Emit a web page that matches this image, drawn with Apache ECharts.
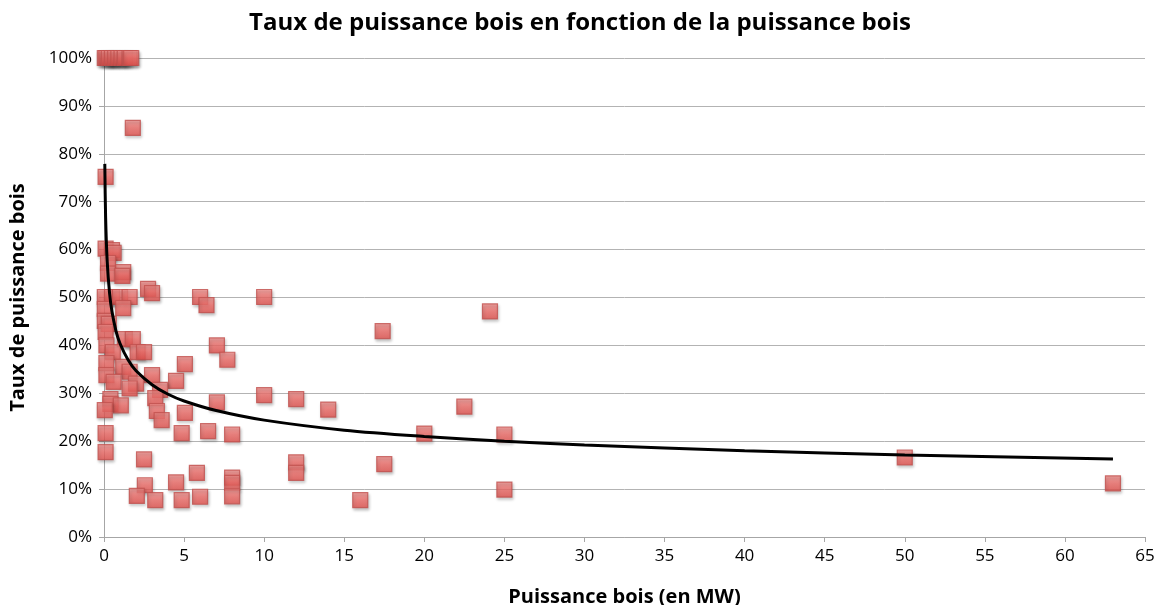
<!DOCTYPE html>
<html><head><meta charset="utf-8">
<script src="https://cdn.jsdelivr.net/npm/echarts@6/dist/echarts.min.js"></script>
<style>html,body{margin:0;padding:0;background:#fff}#c{width:1160px;height:605px}</style>
</head><body><div id="c"></div>
<script>
const titleText = 'Taux de puissance bois en fonction de la puissance bois';
const xAxisName = 'Puissance bois (en MW)';
const yAxisName = 'Taux de puissance bois';
// scatter points: [puissance MW, taux %]
const points = [
[0.05,100],[0.15,100],[0.3,100],[0.5,100],[0.7,100],[0.9,100],[1.1,100],[1.3,100],[1.6,100],[1.7,100],
[1.8,85.4],[0.1,75.2],
[0.1,60.2],[0.5,59.9],[0.6,59.3],[0.25,57.2],[0.25,55],[1.2,55.3],[1.15,54.5],
[2.75,51.8],[3.0,50.9],
[0.05,50.1],[0.5,50.1],[1.0,50.1],[1.6,50.1],[6.0,50.1],[10,50.1],
[6.4,48.4],[1.2,47.8],[0.05,47.6],[24.1,47.1],
[0.05,45.1],[0.3,44.5],[17.4,43],[0.1,42.8],
[1.3,41.3],[1.8,41.3],[7.05,40],[0.15,40],
[0.55,38.6],[2.1,38.6],[2.5,38.6],[7.7,37],
[0.15,36.3],[5.05,36.1],[1.2,35.5],[1.6,34.5],
[0.15,33.8],[3.0,33.8],[0.6,32.4],[4.5,32.6],[2.0,32],
[1.6,31],[3.5,30.7],[10,29.6],[12,28.8],[3.2,29.0],
[0.4,28.8],[7.05,28.1],[0.4,27.8],[1.05,27.5],[22.5,27.2],
[0.05,26.5],[3.3,26.3],[5.05,25.9],[14,26.6],[3.6,24.4],
[6.5,22.1],[4.85,21.7],[0.1,21.7],[8.0,21.4],[20,21.6],[25,21.4],
[0.1,17.7],[2.5,16.2],[50,16.6],[12,15.6],[17.5,15.2],
[5.8,13.4],[12,13.4],[8.0,12.4],[8.0,11.3],
[2.55,10.8],[4.5,11.4],[63,11.2],[25,9.9],
[2.05,8.6],[6.0,8.4],[8.0,8.5],[3.2,7.7],[4.85,7.7],[16,7.7]
];
// power trend line values
const trendX = [0.05,0.1,0.2,0.35,0.5,0.75,1,1.5,2,3,4,5,7,10,15,20,25,30,40,50,63];
const trendY = [77.9,66.9,57.5,50.8,47.0,43.0,40.4,37.0,34.7,31.8,29.8,28.4,26.4,24.4,22.3,21.0,20.0,19.2,18.0,17.1,16.3];
const xTicks = {min:0,max:65,interval:5};
const yTicks = {min:0,max:100,interval:10};

const FONT = 'Open Sans';
const chart = echarts.init(document.getElementById('c'));
chart.setOption({
  animation:false,
  backgroundColor:'#fff',
  title:{text:titleText,left:'center',top:6,textStyle:{fontFamily:FONT,fontSize:24,fontWeight:'bold',color:'#000'}},
  grid:{left:104,right:15,top:58,bottom:68,outerBoundsMode:'none',containLabel:false},
  xAxis:{type:'value',min:xTicks.min,max:xTicks.max,interval:xTicks.interval,
    name:xAxisName,nameLocation:'middle',nameGap:50,
    nameTextStyle:{fontFamily:FONT,fontSize:20,fontWeight:'bold',color:'#000'},
    axisLine:{show:true,onZero:false,lineStyle:{color:'#a6a6a6',width:1}},
    axisTick:{show:true,length:5,lineStyle:{color:'#a6a6a6'}},
    axisLabel:{fontFamily:FONT,fontSize:17,color:'#000',margin:11},
    splitLine:{show:false}},
  yAxis:{type:'value',min:yTicks.min,max:yTicks.max,interval:yTicks.interval,
    name:yAxisName,nameLocation:'middle',nameGap:76,nameRotate:90,
    nameTextStyle:{fontFamily:FONT,fontSize:20,fontWeight:'bold',color:'#000'},
    axisLine:{show:true,lineStyle:{color:'#a6a6a6',width:1}},
    axisTick:{show:true,length:5,lineStyle:{color:'#a6a6a6'}},
    axisLabel:{fontFamily:FONT,fontSize:17,color:'#000',margin:12,formatter:v=>v+'%'},
    splitLine:{show:true,lineStyle:{color:'#b3b3b3',width:1}}},
  series:[
    {type:'scatter',symbol:'rect',symbolSize:15,data:points,z:2,
      itemStyle:{color:new echarts.graphic.LinearGradient(0,0,0,1,[{offset:0,color:'#f69390'},{offset:0.5,color:'#ef6d69'},{offset:1,color:'#e2514d'}]),
        borderColor:'#c0504d',borderWidth:1.2,shadowBlur:3,shadowOffsetX:1,shadowOffsetY:2,shadowColor:'rgba(0,0,0,0.3)'}},
    {type:'line',data:trendX.map((x,i)=>[x,trendY[i]]),smooth:0.3,symbol:'none',z:3,
      lineStyle:{color:'#000',width:3}}
  ]
});
</script></body></html>
